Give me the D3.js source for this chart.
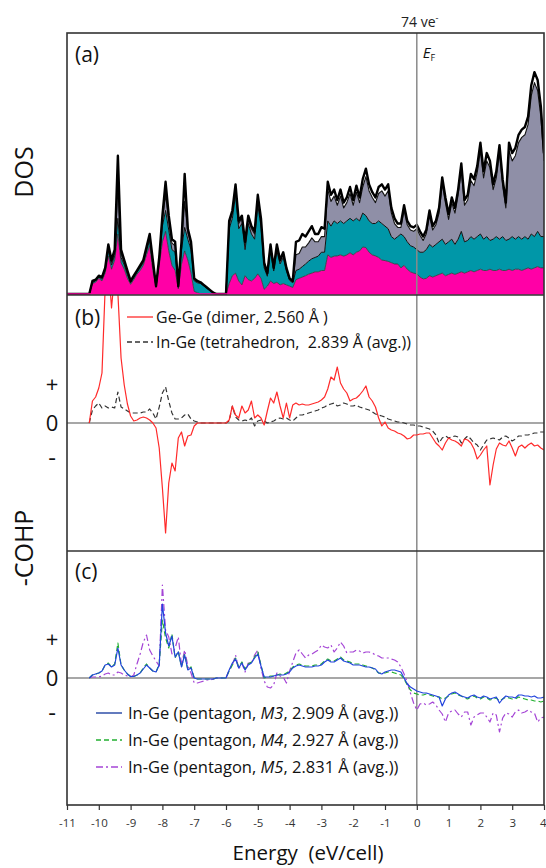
<!DOCTYPE html>
<html><head><meta charset="utf-8">
<script src="https://cdn.jsdelivr.net/npm/d3@7"></script>
<style>body{margin:0;background:#fff}svg text{font-family:"Open Sans",sans-serif}</style>
</head><body>
<svg id="chart" width="546" height="868"></svg>
<script>
// ---------------- data ----------------
const energy=[-11,-10.9,-10.8,-10.7,-10.6,-10.5,-10.4,-10.3,-10.2,-10.1,-10,-9.9,-9.8,-9.7,-9.6,-9.5,-9.4,-9.3,-9.2,-9.1,-9,-8.9,-8.8,-8.7,-8.6,-8.5,-8.4,-8.3,-8.2,-8.1,-8,-7.9,-7.8,-7.7,-7.6,-7.5,-7.4,-7.3,-7.2,-7.1,-7,-6.9,-6.8,-6.7,-6.6,-6.5,-6.4,-6.3,-6.2,-6.1,-6,-5.9,-5.8,-5.7,-5.6,-5.5,-5.4,-5.3,-5.2,-5.1,-5,-4.9,-4.8,-4.7,-4.6,-4.5,-4.4,-4.3,-4.2,-4.1,-4,-3.9,-3.8,-3.7,-3.6,-3.5,-3.4,-3.3,-3.2,-3.1,-3,-2.9,-2.8,-2.7,-2.6,-2.5,-2.4,-2.3,-2.2,-2.1,-2,-1.9,-1.8,-1.7,-1.6,-1.5,-1.4,-1.3,-1.2,-1.1,-1,-0.9,-0.8,-0.7,-0.6,-0.5,-0.4,-0.3,-0.2,-0.1,0,0.1,0.2,0.3,0.4,0.5,0.6,0.7,0.8,0.9,1,1.1,1.2,1.3,1.4,1.5,1.6,1.7,1.8,1.9,2,2.1,2.2,2.3,2.4,2.5,2.6,2.7,2.8,2.9,3,3.1,3.2,3.3,3.4,3.5,3.6,3.7,3.8,3.9,4];

// DOS partial contributions (stacked): magenta, teal, grey, remaining (white)
const dosMagenta=[0,0,0,0,0,0,0,0,
4,4.5,6,5,8,14.6,9.5,13,23,12,9.5,6,3.7,5.5,7.6,9,11,15,18.5,9,2.5,11,20,24,16.5,11,9,2,11.4,16.5,13,8,1,0.5,
0,0,0,0,0,0,0,0,0,
4,7,8,5,3.5,7,5.5,5,6,7.7,6,1.8,3,5,4,4.5,3.5,4,3.5,3,2.5,5.5,6,6.5,7,7.6,8,8.5,8.5,9,9,
15,14,14.5,14.6,15,14.5,15,15.8,15,16,16.5,18,17.8,16,15,14.6,14,13,12.8,
12.5,12,11.5,11.5,10,11,9.5,8.5,8,
7.7,6.5,5.8,6,7,6.5,7,7.5,8,7,7.5,8,7.5,8,8.5,8,8.5,9,8.5,9,9.5,9,9,9.5,9,9,9.5,9,9,9.5,9,9.5,9.5,9,9.5,10,9.5,10,10.5,10,10];
const dosTeal=[0,0,0,0,0,0,0,0,
0.5,0.5,0.5,0.7,1,2,1.6,1.8,6,2,1.6,1.4,0.6,0.7,0.7,1,1,1.5,2.2,2,0.3,1.5,6,8,8,6,7,0.6,5.5,9,8,9,4,3.8,
4,3.1,2.2,1.3,0.5,0,0,0,0,
21,22,30,20,23.5,10,21.5,18,15,26.3,20,8.2,3.8,11.5,4.8,12,8,10,5.3,2.2,1.8,3.5,3.5,4,4.5,5,5.5,5.5,6,7,7,
13,12,13.5,12.4,13,12.5,13,13.2,13,13,11.5,13,12.2,12,12,12.4,14,14,13.2,
12.5,10,9.5,10.5,13,11,10.5,10,10,
9.3,9.5,10.2,11,12,11.5,12,12.5,13,12,12.5,13,11.5,13,15.5,12,12,13,12.5,13,13.5,12,13,11,12,13,11.5,13,11.5,11.5,13,11.5,12.5,12,12.5,11,13.5,12,13.5,12,12];
const dosGrey=[0,0,0,0,0,0,0,0,
0.3,0.3,0.3,0.5,0.6,1.4,1.1,1.2,12,1.5,1,0.9,0.4,0.5,0.4,0.6,0.6,0.9,1.3,1.2,0.1,0.9,2.5,6,3.5,2.5,2.5,0.2,2,10,2.5,2,0.6,0.4,
0.3,0.2,0.2,0.1,0,0,0,0,0,
2,2,2.5,2,2,2,2,2,2,2.5,2,1.2,0.7,1.5,0.7,1.5,1,1.2,0.7,0.5,0.4,6,6,7.5,6.5,7,8,6,5.5,6,6,
12,9.5,9.5,7,9.5,6,7,9.5,6,10,7,10,15,11.5,10,8,10.5,12.5,11.5,
14.5,9,6,3.5,2.5,10,6.5,6,6,
8,6.5,4.5,6.1,11,6.5,7.5,11,21.2,16,8.6,14,12,17,23.5,14,15.5,21.5,20.5,24.5,32,23.5,29,28,19,22.5,33,19.5,12.5,34,29,32,36,39,39,44,53,59,54,46,29];
const dosRest=[0,0,0,0,0,0,0,0,
0.2,0.2,0.2,0.3,0.4,1,0.8,1,12,1.5,0.9,0.7,0.3,0.3,0.3,0.4,0.4,0.6,1,0.8,0.1,0.6,1.5,5,2,1.5,1.5,0.2,1.1,10.5,1.5,1,0.4,0.3,
0.2,0.2,0.1,0.1,0,0,0,0,0,
1,1,1.5,1,1,1,1,1,1,1.5,1,0.8,0.5,1,0.5,1,0.5,0.8,0.5,0.3,0.3,5,5,5,4,4.4,4.5,3,3,3.6,3,
3,2.5,2.5,2,2.5,2,2,2.5,2,2.5,2,3,3,2.5,2,2,2.5,2.5,2.5,
2.5,2,2,1.5,1.5,2,1.5,1.5,1.5,
1.5,1.5,1.5,1.5,2,1.5,1.5,2,2.5,2,2,2,2,2,2.5,2,2,2.5,2.5,2.5,3,2.5,3,2.5,2,2.5,3,2.5,2,3,3,3,3,3,3,3,4,4,4,4,3];

// -COHP, panel (b)
const cohpGeGe=[null,null,null,null,null,null,null,
0,2.2,2.6,3.5,5.0,13.5,16,11.5,15,13,6.5,3.8,1.9,0.7,0.2,0.3,0.5,0.6,0.5,0.3,0,-0.5,-2.5,-6.5,-11.0,-6,-4,-4.8,-1.5,-0.9,-2.3,-1.3,-1.2,-0.3,0,
0,0,0,0,0,0,0,0,0,
0.3,1.7,0.8,0.5,1.7,1.0,1.3,2.2,0.5,0.8,
0.5,-0.2,1.2,2.5,2.0,3.1,1.7,0.5,2.0,0.5,
1.8,2.0,1.8,1.9,1.8,1.8,1.9,2.0,2.1,2.3,
2.6,3.4,4.6,4.3,5.6,4.0,3.4,3.0,2.2,2.4,
2.5,2.8,3.2,3.7,2.6,2.2,1.6,0.5,-0.3,0.1,
-0.5,-0.7,-0.8,-1.0,-1.1,-1.3,-1.6,-1.5,-1.2,
-1.2,-1.1,-1.1,-1.0,-1.0,-1.5,-2.0,-2.3,-2.7,-2.0,
-1.5,-1.7,-1.8,-2.0,-2.3,-1.6,-1.7,-2.0,-2.6,-3.6,
-3.2,-2.7,-2.3,-6.2,-4.2,-2.6,-2.0,-2.2,-2.3,-1.8,
-2.5,-3.3,-2.4,-2.2,-2.5,-2.2,-2.0,-2.3,-2.2,-2.5,
-2.7];
const cohpInGeTetra=[null,null,null,null,null,null,null,
0,1.3,1.7,2.0,1.5,1.7,1.5,1.6,1.5,3.1,1.6,1.4,1.2,1.0,1.0,1.0,1.0,1.1,1.1,1.4,1.0,0.4,1.6,3.0,3.6,2.2,1.0,0.4,0.4,0.5,0.8,0.9,0.4,0.2,0.1,
0,0,0,0,0,0,0,0,0,
0.2,1.7,0.6,0.3,0.2,0.3,0.2,0.5,-0.3,0.2,
0.3,0.2,0,0.1,0.2,0.4,0.5,0.4,0.5,0.3,
0.2,0.5,0.8,0.8,0.9,1.0,1.1,1.2,1.3,1.5,
1.6,1.8,1.9,2.0,1.7,1.8,2.0,1.9,1.7,1.7,
1.8,1.6,1.5,1.4,1.3,1.1,0.9,0.8,0.7,0.6,
0.4,0.3,0.2,0.1,0.1,0,-0.1,-0.2,-0.2,
-0.3,-0.3,-0.4,-0.5,-0.6,-0.8,-1.2,-2.0,-1.5,-1.3,
-1.5,-1.4,-1.3,-1.4,-2.0,-1.6,-1.3,-1.6,-2.0,-2.2,
-2.7,-2.2,-1.7,-1.6,-1.5,-1.6,-1.7,-1.4,-1.3,-1.5,
-1.8,-1.6,-1.3,-1.3,-1.2,-1.2,-1.1,-1.0,-1.0,-0.9,
-0.9];

// -COHP, panel (c)
const cohpM3=[null,null,null,null,null,null,null,
0,0.3,0.4,0.5,0.7,1.3,1.4,1.1,1.3,3.0,1.3,0.8,0.4,0.15,0.15,0.3,0.5,0.9,1.3,1.0,0.7,0.6,1.3,7.4,4.5,3.2,4.2,2.1,2.6,1.1,2.3,0.8,1.0,0,-0.1,
-0.1,-0.1,-0.1,-0.1,-0.1,0,0,0,0,
0.8,1.5,1.9,1.0,1.5,0.8,1.3,1.5,2.0,2.4,
1.2,0.1,0.1,0.1,0.2,0.3,0.3,0.3,0.4,0.6,
1.0,1.2,1.3,1.2,1.1,1.1,1.1,1.2,1.2,1.3,
1.6,1.8,1.6,1.6,1.8,2.0,1.7,1.6,1.5,1.3,
1.3,1.3,1.2,1.1,1.1,1.0,0.9,0.5,0.4,0.6,
0.7,0.8,0.8,0.7,0.6,0,-0.6,-0.9,-1.1,
-1.3,-1.4,-1.5,-1.5,-1.6,-1.7,-1.8,-1.9,-2.8,-2.1,
-1.7,-1.5,-1.4,-1.6,-1.8,-1.9,-2.0,-1.8,-1.7,-1.9,
-2.0,-1.8,-1.9,-2.1,-2.0,-1.9,-2.5,-2.1,-1.8,-1.9,
-1.9,-2.0,-1.7,-1.7,-1.8,-1.8,-1.9,-1.8,-2.0,-2.0,
-1.9];
const cohpM4=[null,null,null,null,null,null,null,
0,0.3,0.4,0.5,0.7,1.3,1.5,1.1,1.4,3.5,1.3,0.8,0.4,0.15,0.15,0.3,0.5,1.0,1.4,1.0,0.7,0.6,1.4,5.8,4.0,3.0,4.4,2.0,2.7,1.1,2.4,0.8,1.1,0,-0.1,
-0.1,-0.1,-0.1,-0.1,-0.1,0,0,0,0,
0.7,1.3,2.0,1.1,1.6,0.9,1.4,1.6,2.1,2.6,
1.3,0.0,0.1,0.2,0.2,0.3,0.4,0.3,0.5,0.7,
1.1,1.3,1.4,1.3,1.2,1.2,1.2,1.3,1.3,1.4,
1.7,1.9,1.7,1.7,1.9,2.1,1.8,1.7,1.6,1.4,
1.4,1.4,1.3,1.2,1.1,1.0,0.8,0.5,0.5,0.5,
0.6,0.6,0.5,0.4,0.3,-0.1,-0.7,-1.2,-1.5,
-1.6,-1.7,-1.7,-1.6,-1.7,-1.8,-1.9,-1.9,-2.1,-2.0,
-1.8,-1.6,-1.5,-1.7,-1.8,-2.0,-2.1,-1.9,-1.8,-2.0,
-2.1,-1.9,-2.0,-2.2,-2.1,-2.0,-2.3,-2.1,-1.9,-2.0,
-2.1,-2.1,-1.9,-2.0,-2.1,-2.2,-2.2,-2.3,-2.3,-2.4,
-2.3];
const cohpM5=[null,null,null,null,null,null,null,
0,0.1,0.1,0.1,0.2,0.4,0.5,0.3,0.3,0.6,0.5,0.3,0.2,0.1,0.3,1.4,2.4,3.6,4.3,2.8,2.2,1.7,1.2,9.3,4.8,4.1,2.4,3.0,4.1,1.3,2.8,1.2,0.5,-0.5,-0.5,
-0.4,-0.3,-0.2,-0.2,-0.1,0,0,0,0,
0.8,1.3,2.3,0.9,1.5,0.6,1.5,1.5,2.3,2.8,
1.0,-0.3,-0.9,-1.0,-0.7,0.5,0.2,0.1,-0.5,0.7,
1.6,2.5,2.8,2.4,2.0,2.3,2.4,2.6,2.8,3.3,
3.1,3.0,3.3,2.6,3.0,3.6,3.2,2.5,2.6,2.6,
2.8,2.7,2.5,2.6,2.6,2.5,2.3,2.2,2.0,2.0,
2.0,1.9,1.8,1.6,1.1,0.4,-0.4,-1.5,-2.5,
-3.2,-2.6,-2.5,-2.7,-2.6,-2.4,-2.7,-3.2,-3.6,-4.4,
-3.5,-3.3,-3.2,-3.6,-3.9,-3.4,-3.4,-4.7,-3.9,-3.7,
-3.5,-3.5,-3.9,-4.4,-3.5,-3.7,-5.4,-4.0,-3.5,-3.6,
-3.9,-3.4,-3.2,-3.5,-3.4,-3.2,-3.4,-3.5,-4.4,-4.0,
-3.9];

const xTicks=[-11,-10,-9,-8,-7,-6,-5,-4,-3,-2,-1,0,1,2,3,4];
const cohpTickLabels=["+","0","-"];
const cohpTickValues=[3.9,0,-3.4];

const legendB=[{label:"Ge-Ge (dimer, 2.560 Å )",color:"#ff2a2a",dash:null},
               {label:"In-Ge (tetrahedron,  2.839 Å (avg.))",color:"#333",dash:"5,3"}];
const legendC=[{pre:"In-Ge (pentagon, ",m:"M3",post:", 2.909 Å (avg.))",color:"#2f4fa8",dash:null},
               {pre:"In-Ge (pentagon, ",m:"M4",post:", 2.927 Å (avg.))",color:"#22b030",dash:"5,3"},
               {pre:"In-Ge (pentagon, ",m:"M5",post:", 2.831 Å (avg.))",color:"#a545d6",dash:"7,3,2,3"}];

// ---------------- layout ----------------
const svg=d3.select("#chart");
const L=67,R=544,T=33,YB=295,YC=551,B=805;
const x=d3.scaleLinear().domain([-11,4]).range([L,R]);
const yA=d3.scaleLinear().domain([0,100]).range([294,T]);
const yB=d3.scaleLinear().domain([-12.8,12.8]).range([YC,YB]);
const yC=d3.scaleLinear().domain([-12.7,12.7]).range([B,YC]);

const defs=svg.append("defs");
[["clipA",T,YB],["clipB",YB,YC],["clipC",YC,B]].forEach(([id,t,b])=>{
  defs.append("clipPath").attr("id",id).append("rect").attr("x",L).attr("y",t).attr("width",R-L).attr("height",b-t);
});

// ---- panel (a) stacked DOS ----
const rows=energy.map((e,i)=>({e,m:dosMagenta[i],t:dosTeal[i],g:dosGrey[i],r:dosRest[i]}));
const stack=d3.stack().keys(["m","t","g","r"])(rows);
const fills={m:"#ff00a6",t:"#0097a8",g:"#8f8fa7",r:"#ffffff"};
const strokes={m:{c:"#333",w:0.8},t:{c:"#111",w:1},g:{c:"#111",w:1.1},r:{c:"#000",w:2.4}};
const gA=svg.append("g").attr("clip-path","url(#clipA)");
const area=d3.area().x(d=>x(d.data.e)).y0(d=>yA(d[0])).y1(d=>yA(d[1]));
const topLine=d3.line().x(d=>x(d.data.e)).y(d=>yA(d[1]));
stack.forEach(s=>{
  gA.append("path").attr("d",area(s)).attr("fill",fills[s.key]).attr("stroke","none");
});
stack.forEach(s=>{
  gA.append("path").attr("d",topLine(s)).attr("fill","none")
    .attr("stroke",strokes[s.key].c).attr("stroke-width",strokes[s.key].w).attr("stroke-linejoin","round");
});
gA.append("line").attr("x1",L).attr("x2",R).attr("y1",294).attr("y2",294).attr("stroke","#ff00a6").attr("stroke-width",1.5);

// ---- reference lines ----
svg.append("line").attr("x1",x(0)).attr("x2",x(0)).attr("y1",T).attr("y2",B).attr("stroke","#8a8a8a").attr("stroke-width",1.5);
svg.append("line").attr("x1",L).attr("x2",R).attr("y1",yB(0)).attr("y2",yB(0)).attr("stroke","#8a8a8a").attr("stroke-width",1.3);
svg.append("line").attr("x1",L).attr("x2",R).attr("y1",yC(0)).attr("y2",yC(0)).attr("stroke","#8a8a8a").attr("stroke-width",1.3);

// ---- panel (b) ----
function drawLine(g,ys,vals,color,dash,w){
  const ln=d3.line().defined(d=>d[1]!==null).x(d=>x(d[0])).y(d=>ys(d[1]));
  g.append("path").attr("d",ln(energy.map((e,i)=>[e,vals[i]]))).attr("fill","none")
    .attr("stroke",color).attr("stroke-width",w).attr("stroke-dasharray",dash).attr("stroke-linejoin","round");
}
const gB=svg.append("g").attr("clip-path","url(#clipB)");
drawLine(gB,yB,cohpInGeTetra,"#333","5,3",1.2);
drawLine(gB,yB,cohpGeGe,"#ff2a2a",null,1.2);

// ---- panel (c) ----
const gC=svg.append("g").attr("clip-path","url(#clipC)");
drawLine(gC,yC,cohpM5,"#a545d6","7,3,2,3",1.2);
drawLine(gC,yC,cohpM4,"#22b030","5,3",1.2);
drawLine(gC,yC,cohpM3,"#2244dd",null,1.2);

// ---- frames ----
svg.append("rect").attr("x",L).attr("y",T).attr("width",R-L).attr("height",B-T).attr("fill","none").attr("stroke","#333").attr("stroke-width",1.6);
svg.append("line").attr("x1",L).attr("x2",R).attr("y1",YB).attr("y2",YB).attr("stroke","#333").attr("stroke-width",1.6);
svg.append("line").attr("x1",L).attr("x2",R).attr("y1",YC).attr("y2",YC).attr("stroke","#333").attr("stroke-width",1.6);

// ---- x axis ----
const ax=svg.append("g").attr("transform",`translate(0,${B})`)
  .call(d3.axisBottom(x).tickValues(xTicks).tickSize(5).tickPadding(9).tickFormat(d=>String(d)));
ax.select(".domain").remove();
ax.selectAll("line").attr("stroke","#333").attr("stroke-width",1.2);
ax.selectAll("text").attr("font-family","Liberation Sans, Arial, sans-serif").attr("font-size",11.5).attr("fill","#333");
ax.selectAll(".tick").filter(d=>d===4).select("text").attr("text-anchor","end").attr("dx",2);

svg.append("text").attr("x",308).attr("y",860).attr("text-anchor","middle").attr("font-size",20.5).attr("fill","#111")
  .style("white-space","pre").text("Energy  (eV/cell)");

// ---- y labels ----
svg.append("text").attr("transform","translate(33,172) rotate(-90)").attr("text-anchor","middle").attr("font-size",25).attr("fill","#111").text("DOS");
svg.append("text").attr("transform","translate(33,548) rotate(-90)").attr("text-anchor","middle").attr("font-size",25).attr("fill","#111").text("-COHP");
[[yB],[yC]].forEach(([ys])=>{
  cohpTickValues.forEach((v,i)=>{
    svg.append("text").attr("x",52).attr("y",ys(v)).attr("dy","0.36em").attr("text-anchor","middle")
      .attr("font-size",i===2?24:22).attr("fill","#111").text(cohpTickLabels[i]);
  });
});

// ---- panel tags ----
[["(a)",62],["(b)",325],["(c)",579]].forEach(([t,yy])=>{
  svg.append("text").attr("x",75).attr("y",yy).attr("font-size",21).attr("fill","#111").text(t);
});

// ---- top annotations ----
const ve=svg.append("text").attr("x",x(0)+3).attr("y",27).attr("text-anchor","middle").attr("font-size",14).attr("fill","#222");
ve.append("tspan").text("74 ve");
ve.append("tspan").attr("font-size",9).attr("dy",-6).text("-");
const ef=svg.append("text").attr("x",x(0)+6).attr("y",58).attr("font-size",15).attr("fill","#111");
ef.append("tspan").attr("font-style","italic").text("E");
ef.append("tspan").attr("font-size",9).attr("dy",3).text("F");

// ---- legends ----
legendB.forEach((d,i)=>{
  const yy=317+i*25;
  svg.append("line").attr("x1",127).attr("x2",153).attr("y1",yy).attr("y2",yy).attr("stroke",d.color).attr("stroke-width",1.3).attr("stroke-dasharray",d.dash);
  svg.append("text").attr("x",156).attr("y",yy).attr("dy","0.35em").attr("font-size",16).attr("fill","#111").style("white-space","pre").text(d.label);
});
legendC.forEach((d,i)=>{
  const yy=713+i*27;
  svg.append("line").attr("x1",96).attr("x2",122).attr("y1",yy).attr("y2",yy).attr("stroke",d.color).attr("stroke-width",1.5).attr("stroke-dasharray",d.dash);
  const t=svg.append("text").attr("x",128).attr("y",yy).attr("dy","0.35em").attr("font-size",16.5).attr("fill","#111");
  t.append("tspan").text(d.pre);
  t.append("tspan").attr("font-style","italic").text(d.m);
  t.append("tspan").text(d.post);
});
</script>
</body></html>
